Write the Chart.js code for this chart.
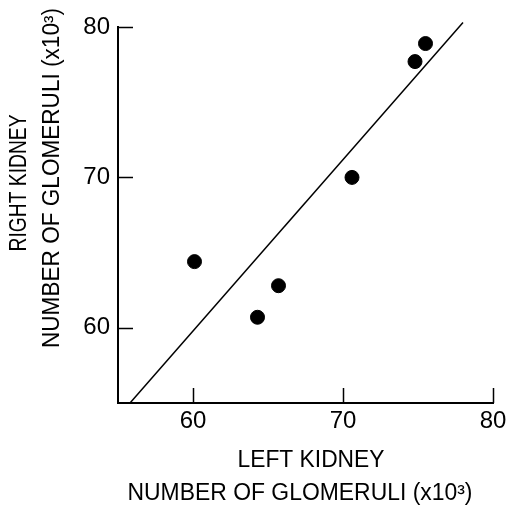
<!DOCTYPE html>
<html>
<head>
<meta charset="utf-8">
<script src="https://cdn.jsdelivr.net/npm/chart.js@4.4.0/dist/chart.umd.min.js"></script>
<style>
  html, body { margin: 0; padding: 0; background: #fff; }
  #wrap { width: 506px; height: 505px; }
</style>
</head>
<body>
<div id="wrap"><canvas id="c" width="506" height="505"></canvas></div>
<script>
// Data (x10^3 glomeruli)
const leftKidney  = [60.1, 64.3, 65.7, 70.6, 74.8, 75.5];
const rightKidney = [64.4, 60.7, 62.8, 70.0, 77.7, 78.9];
// Regression line end points
const lineX = [55.8, 78.0];
const lineY = [55.0, 80.3];
// Tick values
const xTicks = [60, 70, 80];
const yTicks = [60, 70, 80];
const xTitle = ['LEFT KIDNEY', 'NUMBER OF GLOMERULI (x10\u00B3)'];
const yTitle = ['RIGHT KIDNEY', 'NUMBER OF GLOMERULI (x10\u00B3)'];

const FONT = '"Liberation Sans", Arial, sans-serif';

function drawFit(ctx, text, cx, cy, rot, w) {
  ctx.save();
  ctx.translate(cx, cy);
  ctx.rotate(rot);
  const m = ctx.measureText(text).width;
  ctx.scale(w / m, 1);
  ctx.fillText(text, 0, 0);
  ctx.restore();
}

const inwardTicks = {
  id: 'inwardTicks',
  afterDraw(chart) {
    const ctx = chart.ctx;
    const xs = chart.scales.x, ys = chart.scales.y;
    const a = chart.chartArea;
    ctx.save();
    ctx.strokeStyle = '#000';
    ctx.lineWidth = 1.5;
    ctx.beginPath();
    xTicks.forEach(v => {
      const px = Math.round(xs.getPixelForValue(v)) + 0.5;
      ctx.moveTo(px, a.bottom);
      ctx.lineTo(px, a.bottom - 15);
    });
    yTicks.forEach(v => {
      const py = Math.round(ys.getPixelForValue(v)) + 0.5;
      ctx.moveTo(a.left, py);
      ctx.lineTo(a.left + 15, py);
    });
    ctx.stroke();

    // axis titles
    ctx.fillStyle = '#000';
    ctx.font = '23px ' + FONT;
    ctx.textAlign = 'center';
    ctx.textBaseline = 'middle';
    drawFit(ctx, xTitle[0], a.left + 193, a.bottom + 58, 0, 147);
    drawFit(ctx, xTitle[1], a.left + 182, a.bottom + 91, 0, 345);
    drawFit(ctx, yTitle[0], a.left - 98, a.top + 156, -Math.PI / 2, 137);
    drawFit(ctx, yTitle[1], a.left - 65, a.top + 151, -Math.PI / 2, 340);
    ctx.restore();
  }
};

new Chart(document.getElementById('c'), {
  type: 'scatter',
  data: {
    datasets: [
      {
        data: leftKidney.map((x, i) => ({ x, y: rightKidney[i] })),
        backgroundColor: '#000',
        borderColor: '#000',
        pointRadius: 7,
        pointHoverRadius: 7,
        showLine: false
      },
      {
        data: lineX.map((x, i) => ({ x, y: lineY[i] })),
        borderColor: '#000',
        borderWidth: 1.5,
        pointRadius: 0,
        showLine: true,
        clip: false
      }
    ]
  },
  options: {
    responsive: false,
    animation: false,
    devicePixelRatio: 1,
    layout: { padding: { top: 27, right: 13, left: 0, bottom: 0 } },
    plugins: { legend: { display: false }, tooltip: { enabled: false } },
    scales: {
      x: {
        type: 'linear', min: 55, max: 80,
        afterBuildTicks: s => { s.ticks = xTicks.map(v => ({ value: v })); },
        afterFit: s => { s.height = 102; s.paddingLeft = 0; s.paddingRight = 0; },
        grid: { display: true, drawOnChartArea: false, drawTicks: false },
        border: { display: true, color: '#000', width: 2 },
        ticks: { color: '#000', font: { family: FONT, size: 24 }, padding: 4, maxRotation: 0 }
      },
      y: {
        type: 'linear', min: 55, max: 80,
        afterBuildTicks: s => { s.ticks = yTicks.map(v => ({ value: v })); },
        afterFit: s => { s.width = 118; s.paddingTop = 0; s.paddingBottom = 0; },
        grid: { display: true, drawOnChartArea: false, drawTicks: false },
        border: { display: true, color: '#000', width: 2 },
        ticks: { color: '#000', font: { family: FONT, size: 24 }, padding: 8 }
      }
    }
  },
  plugins: [inwardTicks]
});
</script>
</body>
</html>
